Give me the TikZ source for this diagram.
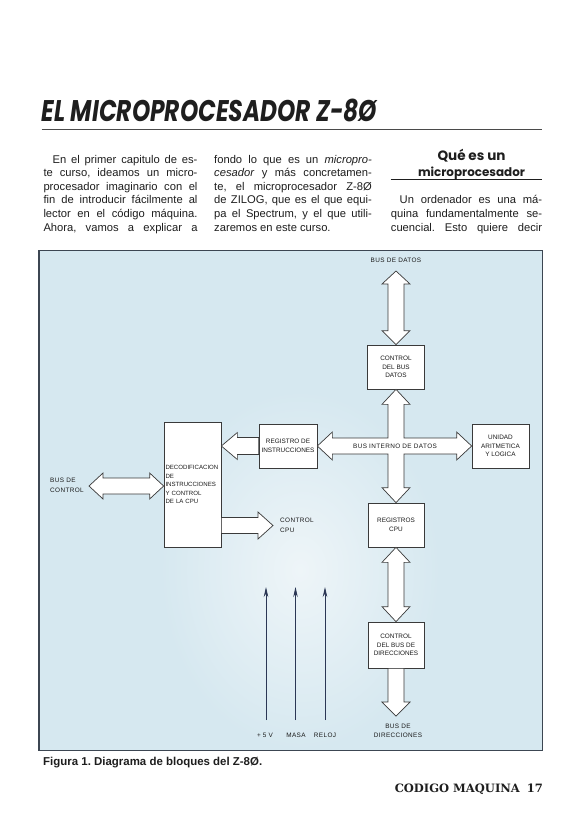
\documentclass[tikz,border=0pt]{standalone}
\usepackage{fontspec}
\setmainfont{Liberation Sans}
\newfontfamily\titlef{Poppins}
\newfontfamily\slabf{DejaVu Serif}
\newfontfamily\lblf{Liberation Sans}[LetterSpace=6]
\usetikzlibrary{calc,arrows.meta}
\definecolor{ink}{HTML}{1E1E1E}
\definecolor{bgblue}{HTML}{D6E8F0}
\definecolor{bglight}{HTML}{EEF5F8}
\definecolor{framec}{HTML}{3C4652}
\definecolor{navy}{HTML}{2B3755}
\definecolor{boxline}{HTML}{3A3A3A}
\definecolor{dtext}{HTML}{1A1A1A}
\definecolor{rulec}{HTML}{4A4A4A}
\newcommand\dfont{\fontsize{6.4}{8.7}\selectfont}
\newcommand\decfont{\fontsize{6.1}{8.4}\selectfont}
\newcommand\lfont{\lblf\fontsize{6.4}{9.5}\selectfont}
\newcommand\bodyfont{\fontsize{11.2}{13.5}\selectfont}
\newcommand\tl[4]{\node[bodyl] (#1) at (#2) {\makebox[#3][s]{#4}};}
\frenchspacing
\begin{document}
\frenchspacing
\begin{tikzpicture}[x=1pt,y=-1pt,
  bus/.style={draw=boxline,fill=white,line width=0.7pt},
  blk/.style={draw=boxline,fill=white,line width=0.7pt,inner sep=1.5pt,font=\dfont,text=dtext,align=center},
  lbl/.style={font=\lfont,text=dtext,inner sep=0pt,align=center},
  thinarr/.style={draw=navy,line width=0.8pt,-{Stealth[length=10pt,width=4.5pt]}},
  bodyl/.style={anchor=base west,inner sep=0pt,font=\bodyfont,text=ink},
]
\useasboundingbox (0,0) rectangle (582,825);
\fill[white] (0,0) rectangle (582,825);

% title
\node[anchor=base west,inner sep=0pt,text=ink] (title) at (41.7,121.7)
  {\resizebox{335pt}{22.5pt}{\titlef\bfseries\itshape EL MICROPROCESADOR Z-8Ø}};
\draw[rulec,line width=1.3pt] (41.7,129.3) -- (541.7,129.3);

% column 1
\tl{a1}{52.5,163}{144.8pt}{En el primer capitulo de es-}
\tl{a2}{43.3,176.6}{154pt}{te curso, ideamos un micro-}
\tl{a3}{43.3,190.2}{154pt}{procesador imaginario con el}
\tl{a4}{43.3,203.8}{154pt}{fin de introducir fácilmente al}
\tl{a5}{43.3,217.4}{154pt}{lector en el código máquina.}
\tl{a6}{43.3,231}{154pt}{Ahora, vamos a explicar a}
% column 2
\tl{b1}{214,163}{157.7pt}{fondo lo que es un \textit{micropro-}}
\tl{b2}{214,176.6}{157.7pt}{\textit{cesador} y más concretamen-}
\tl{b3}{214,190.2}{157.7pt}{te, el microprocesador Z-8Ø}
\tl{b4}{214,203.8}{157.7pt}{de ZILOG, que es el que equi-}
\tl{b5}{214,217.4}{157.7pt}{pa el Spectrum, y el que utili-}
\node[bodyl] (b6) at (214,231) {zaremos en este curso.};
% column 3
\node[anchor=base,inner sep=0pt,text=ink] (h1) at (471.5,160)
  {\resizebox{68pt}{!}{\titlef\bfseries Qué es un}};
\node[anchor=base,inner sep=0pt,text=ink] (h2) at (471.5,176)
  {\resizebox{107pt}{!}{\titlef\bfseries microprocesador}};
\draw[ink,line width=1.2pt] (390.7,179.6) -- (542,179.6);
\tl{c1}{399.5,203.8}{142.5pt}{Un ordenador es una má-}
\tl{c2}{390.7,217.4}{151.3pt}{quina fundamentalmente se-}
\tl{c3}{390.7,231}{151.3pt}{cuencial. Esto quiere decir}

% diagram frame
\fill[bgblue] (39,250.5) rectangle (542.5,750.5);
\shade[inner color=bglight,outer color=bgblue] (300,570) ellipse [x radius=140pt, y radius=180pt];
\draw[framec,line width=1.6pt] (39,250.5) rectangle (542.5,750.5);

% blocks
\node[blk,minimum width=57pt,minimum height=44pt] (cbd) at (396,367) {CONTROL\\DEL BUS\\DATOS};
\node[blk,minimum width=58pt,minimum height=44pt] (ri) at (288,446) {REGISTRO DE\\INSTRUCCIONES};
\node[blk,minimum width=57pt,minimum height=44pt] (ual) at (500.5,446) {UNIDAD\\ARITMETICA\\Y LOGICA};
\node[blk,font=\decfont,minimum width=57pt,minimum height=125pt,align=left,text width=54pt] (dec) at (192.5,484.5)
  {DECODIFICACION\\DE\\INSTRUCCIONES\\Y CONTROL\\DE LA CPU};
\node[blk,minimum width=56pt,minimum height=44pt] (rcpu) at (396,525) {REGISTROS\\CPU};
\node[blk,minimum width=56pt,minimum height=46pt] (cbdir) at (396,645) {CONTROL\\DEL BUS DE\\DIRECCIONES};

% free ends and labels
\node[lbl] (lbdat) at (396,260.5) {BUS DE DATOS};
\coordinate (bdat) at (396,271);
\node[lbl,anchor=west,align=left] (lbctl) at (50,485.5) {BUS DE\\CONTROL};
\coordinate (bctl) at (89,486);
\node[lbl,anchor=west,align=left] (lcpu) at (280,525.5) {CONTROL\\CPU};
\coordinate (cctl) at (273,525.5);
\node[lbl] (l5v) at (265,735) {+ 5 V};
\node[lbl] (lmasa) at (296,735) {MASA};
\node[lbl] (lreloj) at (325,735) {RELOJ};
\node[lbl] (lbdir) at (398,731) {BUS DE\\DIRECCIONES};
\coordinate (bdir) at (396,716);
\coordinate (decri) at (dec.east |- ri.west);
\coordinate (deccc) at (dec.east |- cctl);
\coordinate (decbc) at (dec.west |- bctl);

% block arrows
\draw[bus] (bdat) -- ++(14,13) -- ++(-6,0) -- ($(cbd.north)+(8,-14)$) -- ++(6,0) -- (cbd.north)
  -- ++(-14,-14) -- ++(6,0) -- ($(bdat)+(-8,13)$) -- ++(-6,0) -- cycle;
\draw[bus] (cbd.south) -- ++(14,15) -- ++(-6,0) |- ($(ual.west)+(-15,-8)$) -- ++(0,-6) -- (ual.west)
  -- ++(-15,14) -- ++(0,-6) -| ($(rcpu.north)+(8,-15)$) -- ++(6,0) -- (rcpu.north)
  -- ++(-14,-15) -- ++(6,0) |- ($(ri.east)+(15,8)$) -- ++(0,6) -- (ri.east)
  -- ++(15,-14) -- ++(0,6) -| ($(cbd.south)+(-8,15)$) -- ++(-6,0) -- cycle;
\node[lbl] (lbint) at (395,446) {BUS INTERNO DE DATOS};
\draw[bus] (ri.west) -- ++(0,-8.5) -- ($(decri)+(16,-8.5)$) -- ++(0,-5) -- (decri)
  -- ++(16,13.5) -- ++(0,-5) -- ($(ri.west)+(0,8.5)$) -- cycle;
\draw[bus] ($(deccc)+(0,-8)$) -- ($(cctl)+(-15,-8)$) -- ++(0,-5.5) -- (cctl)
  -- ++(-15,13.5) -- ++(0,-5.5) -- ($(deccc)+(0,8)$) -- cycle;
\draw[bus] (bctl) -- ++(14,-13) -- ++(0,5) -- ($(decbc)+(-14,-8)$) -- ++(0,-5) -- (decbc)
  -- ++(-14,13) -- ++(0,-5) -- ($(bctl)+(14,8)$) -- ++(0,5) -- cycle;
\draw[bus] (rcpu.south) -- ++(14,15) -- ++(-6,0) -- ($(cbdir.north)+(8,-15)$) -- ++(6,0) -- (cbdir.north)
  -- ++(-14,-15) -- ++(6,0) -- ($(rcpu.south)+(-8,15)$) -- ++(-6,0) -- cycle;
\draw[bus] ($(cbdir.south)+(8,0)$) -- ($(bdir)+(8,-14)$) -- ++(6,0) -- (bdir)
  -- ++(-14,-14) -- ++(6,0) -- ($(cbdir.south)+(-8,0)$) -- cycle;

% thin arrows
\coordinate (p1b) at (266,720); \coordinate (p1t) at (266,587);
\coordinate (p2b) at (295.5,720); \coordinate (p2t) at (295.5,587);
\coordinate (p3b) at (325,720); \coordinate (p3t) at (325,587);
\draw[thinarr] (p1b) -- (p1t);
\draw[thinarr] (p2b) -- (p2t);
\draw[thinarr] (p3b) -- (p3t);

% caption and footer
\node[anchor=base west,inner sep=0pt,text=ink] (cap) at (43,765.5)
  {\resizebox{219pt}{!}{\bfseries Figura 1. Diagrama de bloques del Z-8Ø.}};
\node[anchor=base east,inner sep=0pt,text=ink] (foot) at (543,792.5)
  {\resizebox{148pt}{!}{\slabf\bfseries CODIGO MAQUINA\hspace{0.6em}17}};
\end{tikzpicture}
\end{document}
